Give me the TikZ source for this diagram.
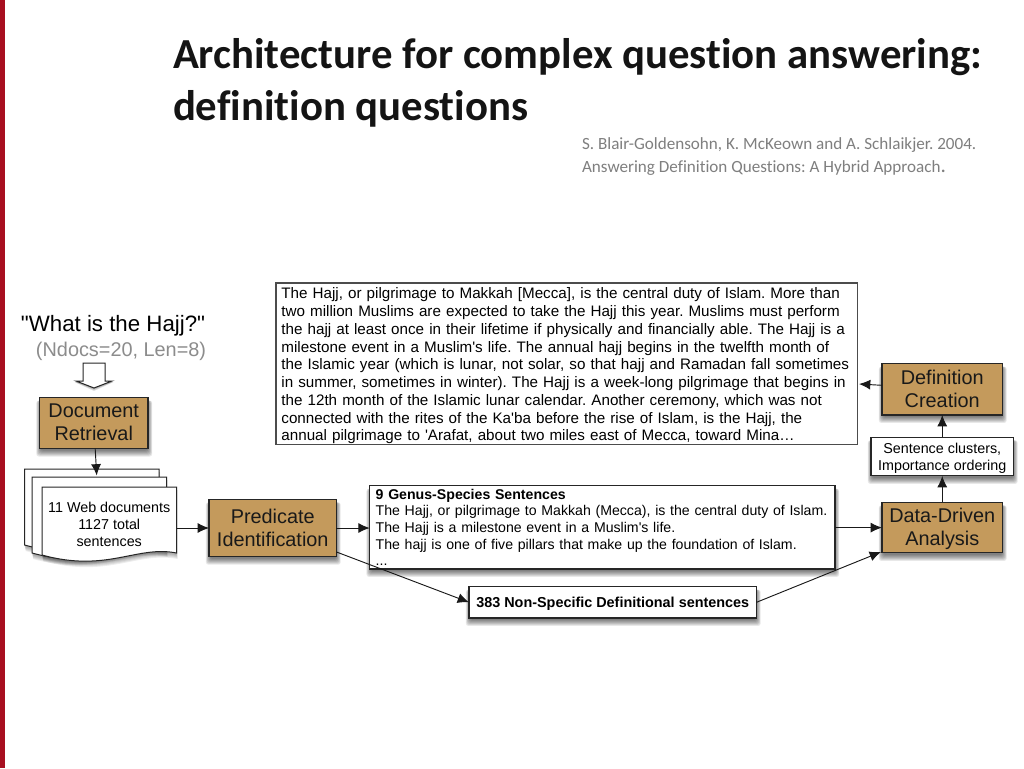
\documentclass[tikz,border=0pt]{standalone}
\usepackage{fontspec}
\setmainfont{Liberation Sans}[Ligatures=TeXOff]
\newfontfamily\titlefont{Carlito}[Ligatures=NoCommon]
\usetikzlibrary{arrows.meta,calc,backgrounds}
\definecolor{tanbox}{HTML}{C49A5C}
\definecolor{barred}{HTML}{A80F20}
\definecolor{citegray}{HTML}{7F7F7F}
\definecolor{paramgray}{HTML}{8C8C8C}
\newcommand{\softshadow}[1]{%
  \begin{scope}[on background layer]
    \foreach \d in {6,5,4,3,2,1,0}
      \fill[black,fill opacity=.09,rounded corners=2pt]
        ($(#1.north west)+(1-\d*.7,3)$) rectangle ($(#1.south east)+(\d*.7,2+\d*1.0)$);
  \end{scope}}
\newcommand{\wavepath}[3]{(#1,#2) -- (#1+134.5,#2) -- (#1+134.5,#3-2) .. controls (#1+95,#3-10) and (#1+65,#3+18) .. (#1,#3) -- cycle}
\newcommand{\docpage}[3]{%
  \foreach \d in {5,4,3,2,1}
    \fill[black,fill opacity=.07] \wavepath{#1+\d*.2}{#2+3}{#3+1+\d};
  \draw[docline,fill=white] \wavepath{#1}{#2}{#3};}
\tikzset{
  x=.75pt,y=-.75pt,
  wire/.style={draw=black!90,line width=.7pt,-{Latex[length=8.5pt,width=7.5pt]}},
  docline/.style={draw=black!85,line width=.75pt},
  stagebox/.style={draw=black!85,line width=.8pt,fill=tanbox,outer sep=0pt,inner sep=0pt,align=center,font=\fontsize{14.9}{17.3}\selectfont,text=black!90},
  whitebox/.style={draw=black!85,line width=.8pt,fill=white,outer sep=0pt,inner sep=0pt},
  plaintext/.style={inner sep=0pt,outer sep=0pt,anchor=west},
}
\begin{document}
\frenchspacing
\begin{tikzpicture}
\useasboundingbox (0,0) rectangle (1024,768);
\begin{scope}[on background layer]
  \fill[white] (0,0) rectangle (1024,768);
\end{scope}
\fill[barred] (0,0) rectangle (5,768);

\node[plaintext,anchor=north west,align=left,font={\titlefont\bfseries\fontsize{32.1}{39}\selectfont},text=black!92] (title) at (173,38.5)
  {Architecture for complex question answering:\\definition questions};
\node[plaintext,anchor=north west,align=left,font={\titlefont\fontsize{12.83}{17.2}\selectfont},text=citegray] (cite) at (582,137.5)
  {S. Blair-Goldensohn, K. McKeown and A. Schlaikjer. 2004.\\Answering Definition Questions: A Hybrid Approach{\fontsize{16}{17.2}\selectfont .}};

\node[plaintext,font=\fontsize{16.7}{20}\selectfont] (question) at (21,325.5) {"What is the Hajj?"};
\node[plaintext,font=\fontsize{14.9}{18}\selectfont,text=paramgray] (params) at (36,351) {(Ndocs=20, Len=8)};

% block arrow
\foreach \d in {3,2,1}
  \fill[black,fill opacity=.12] (83,363+2) -- (105,363+2) -- (105,381+1) -- (112+\d*.5,381+1) -- (94,388+\d) -- (76-\d*.5,381+1) -- (83,381+1) -- cycle;
\draw[docline,fill=white] (83,363) -- (105,363) -- (105,381) -- (112,381) -- (94,388) -- (76,381) -- (83,381) -- cycle;

% stage boxes
\node[stagebox,minimum width=81.4pt,minimum height=38.3pt] (dr) at (93.75,423) {Document\\Retrieval\rule[-1.5pt]{0pt}{1.5pt}};
\softshadow{dr}
\node[stagebox,minimum width=95.6pt,minimum height=43.1pt] (pi) at (272.75,528) {Predicate\\Identification};
\softshadow{pi}
\node[stagebox,minimum width=90.4pt,minimum height=38.5pt] (dc) at (942.25,389.3) {Definition\\Creation};
\softshadow{dc}
\node[stagebox,minimum width=90.4pt,minimum height=38pt] (dd) at (942.25,527.6) {\rule{0pt}{12.5pt}Data-Driven\\ Analysis};
\softshadow{dd}
\node[whitebox,minimum width=106.9pt,minimum height=29pt,align=center,font=\fontsize{10.75}{12.6}\selectfont] (sc) at (942.25,456.6) {\rule{0pt}{10pt}Sentence clusters,\\Importance ordering};
\softshadow{sc}

\node[whitebox,draw=black!70,minimum width=436.1pt,minimum height=120.8pt,text width=428pt,align=left,font=\fontsize{11.4}{13.3}\selectfont] (big) at (566.75,363.5)
  {\rule{0pt}{12pt}The Hajj, or pilgrimage to Makkah [Mecca], is the central duty of Islam. More than\\
   two million Muslims are expected to take the Hajj this year. Muslims must perform\\
   the hajj at least once in their lifetime if physically and financially able. The Hajj is a\\
   milestone event in a Muslim's life. The annual hajj begins in the twelfth month of\\
   the Islamic year (which is lunar, not solar, so that hajj and Ramadan fall sometimes\\
   in summer, sometimes in winter). The Hajj is a week-long pilgrimage that begins in\\
   the 12th month of the Islamic lunar calendar. Another ceremony, which was not\\
   connected with the rites of the Ka'ba before the rise of Islam, is the Hajj, the\\
   annual pilgrimage to 'Arafat, about two miles east of Mecca, toward Mina…};

\node[whitebox,minimum width=349pt,minimum height=62.5pt,text width=340pt,align=left,font=\fontsize{10.6}{12.5}\selectfont] (genus) at (602.35,527.3)
  {\textbf{9 Genus-Species Sentences}\\
   The Hajj, or pilgrimage to Makkah (Mecca), is the central duty of Islam.\\
   The Hajj is a milestone event in a Muslim's life.\\
   The hajj is one of five pillars that make up the foundation of Islam.\\
   ...};
\softshadow{genus}
\node[whitebox,minimum width=215.6pt,minimum height=23.5pt,font=\fontsize{10.8}{12.5}\selectfont\bfseries] (nonspec) at (612.75,602.3) {\rule{0pt}{10pt}383 Non-Specific Definitional sentences};
\softshadow{nonspec}

% document stack
\docpage{24.5}{469}{545}
\docpage{32}{477}{553}
\docpage{42}{487}{555}
\node[inner sep=0pt,outer sep=0pt,minimum width=100.9pt,minimum height=51pt,align=center,font=\fontsize{10.75}{12.7}\selectfont] (docfront) at (109.25,524) {11 Web documents\\1127 total\\sentences};
\coordinate (docin) at (96.7,475.5);

% connectors
\draw[wire] (dr) -- (docin);
\draw[wire] (docfront.east |- pi.west) -- (pi.west);
\draw[wire] (pi.east) -- (genus.west |- pi.east);
\draw[wire] ($(pi.south east)+(0,-4.75)$) -- (nonspec.west);
\draw[wire] (genus.east |- dd.west) -- (dd.west);
\draw[wire] (nonspec.east) -- ($(dd.south west)+(-1,-1)$);
\draw[wire] (dd.north) -- (sc.south);
\draw[wire] (sc.north) -- (dc.south);
\draw[wire] ($(dc.west)+(0,-4)$) -- ($(big.east)+(1.5,20.5)$);
\end{tikzpicture}
\end{document}
